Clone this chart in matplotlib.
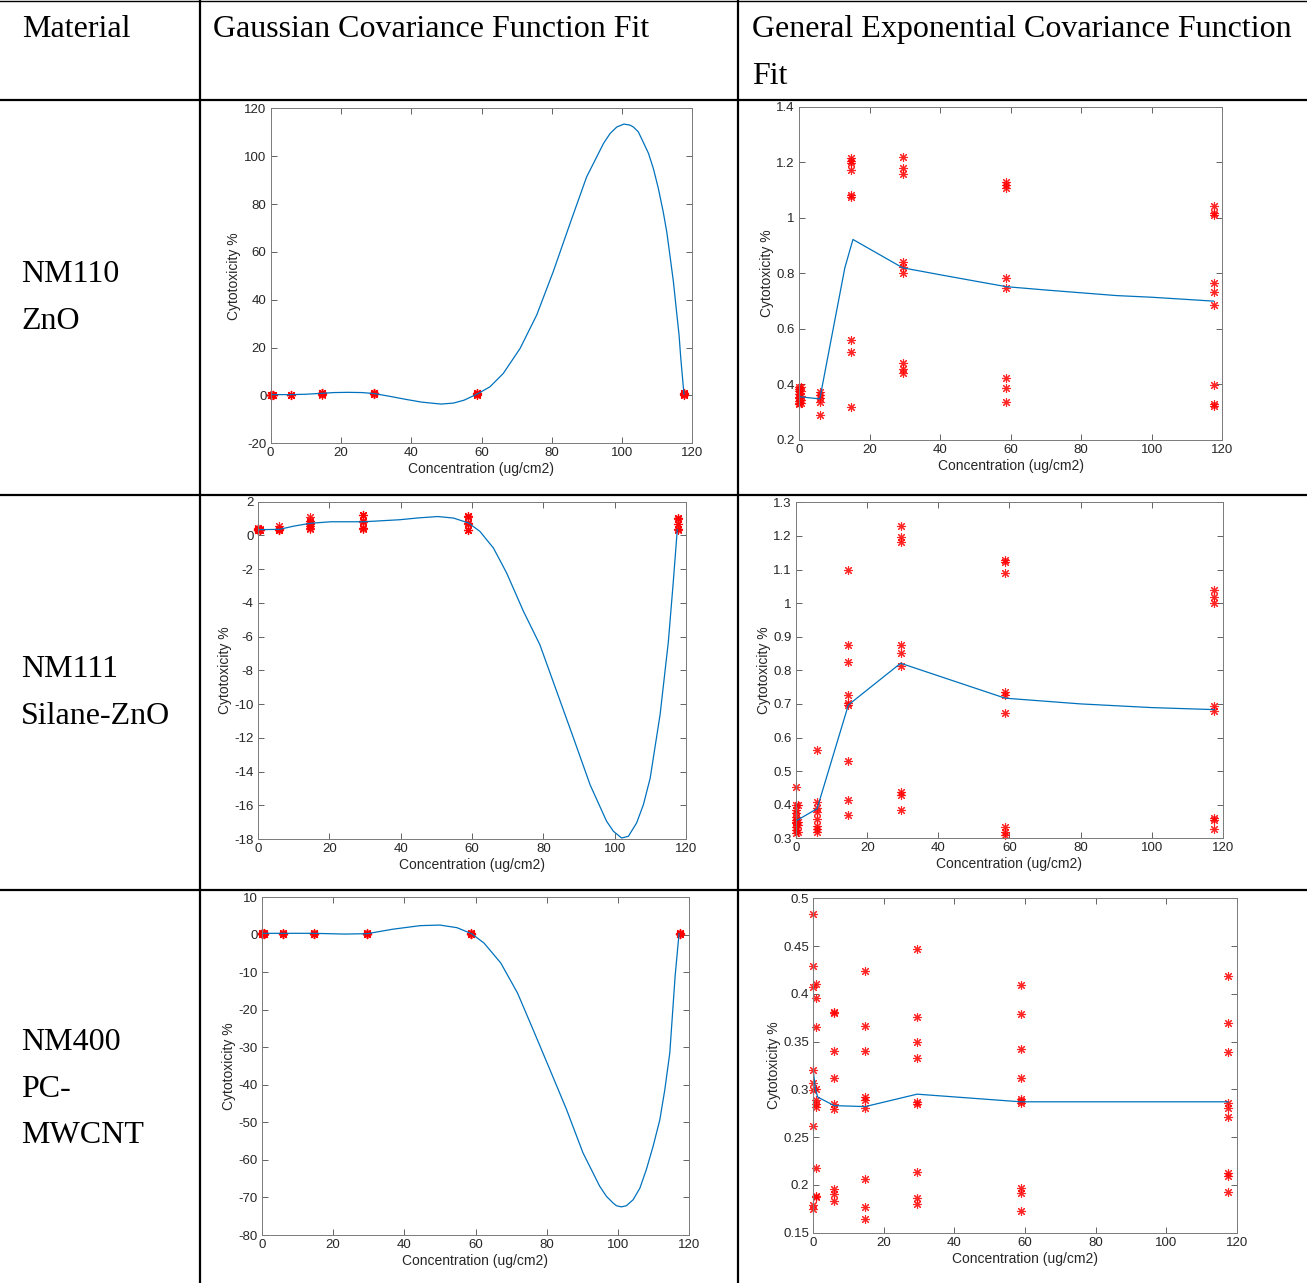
import numpy as np
import matplotlib
matplotlib.use("Agg")
import matplotlib.pyplot as plt
from matplotlib.lines import Line2D
from matplotlib.ticker import FuncFormatter

# ---- data ----
doses = [0, 0.6, 5.9, 14.7, 29.4, 58.8, 117.6]

# NM110 ZnO observations per dose
zno_obs = [
    [0.39, 0.385, 0.375, 0.365, 0.355, 0.35, 0.34, 0.335, 0.33],
    [0.39, 0.375, 0.36, 0.345, 0.335],
    [0.374, 0.362, 0.35, 0.338, 0.29],
    [1.214, 1.206, 1.196, 1.172, 1.082, 1.076, 0.56, 0.516, 0.318],
    [1.22, 1.178, 1.158, 0.84, 0.824, 0.80, 0.476, 0.454, 0.44],
    [1.128, 1.118, 1.106, 0.782, 0.746, 0.422, 0.386, 0.338],
    [1.042, 1.016, 1.01, 0.766, 0.732, 0.686, 0.398, 0.33, 0.322],
]
zno_gauss_x = [0, 5.9, 10, 14.7, 18, 22, 26, 29.4, 34, 38.7, 43, 48.5, 52, 55, 58.6,
               62.4, 66.2, 71, 75.7, 80.4, 85.2, 89.9, 94.7, 96.6, 98.5, 100.5, 102.2,
               103.2, 104.6, 106, 107.5, 108.9, 110.3, 111.7, 112.7, 113.6, 114.6, 115.5,
               116.2, 116.7, 117.6]
zno_gauss_y = [0.35, 0.35, 0.5, 0.9, 1.2, 1.3, 1.2, 0.8, -0.4, -1.7, -2.8, -3.6, -3.2,
               -2.0, 0.45, 3.6, 9.2, 19.7, 33.6, 51.7, 71.9, 91.3, 105.3, 109.5, 112.2,
               113.4, 113.0, 112.2, 110.2, 105.9, 101.2, 94.8, 86.6, 76.7, 68.4, 58.6,
               47.5, 34.9, 25.3, 15.5, 0.5]
zno_exp_x = [0, 5.9, 13, 15.3, 20, 29.4, 40, 50, 58.8, 70, 80, 90, 100, 117.6]
zno_exp_y = [0.356, 0.348, 0.82, 0.922, 0.888, 0.82, 0.795, 0.772, 0.752, 0.74, 0.73,
             0.72, 0.714, 0.70]

# NM111 Silane-ZnO observations per dose
silane_obs = [
    [0.454, 0.399, 0.384, 0.374, 0.364, 0.354, 0.349, 0.345, 0.335, 0.325, 0.315],
    [0.399, 0.349, 0.339, 0.32],
    [0.563, 0.409, 0.389, 0.379, 0.357, 0.337, 0.327, 0.32],
    [1.099, 0.875, 0.826, 0.727, 0.702, 0.697, 0.531, 0.414, 0.369],
    [1.228, 1.198, 1.183, 0.875, 0.851, 0.814, 0.439, 0.429, 0.384],
    [1.128, 1.123, 1.089, 0.736, 0.727, 0.672, 0.335, 0.32, 0.31],
    [1.039, 1.019, 0.999, 0.695, 0.679, 0.36, 0.355, 0.328],
]
silane_gauss_x = [0, 6, 10, 14.7, 20.4, 29.6, 39.7, 45, 50.4, 54.8, 59, 62.2, 66, 69.7,
                  74.4, 79, 83.7, 88.4, 93.1, 97.7, 99.6, 101.9, 103.8, 106.1, 108,
                  109.9, 112.7, 115, 116.4, 117.5]
silane_gauss_y = [0.34, 0.36, 0.55, 0.72, 0.81, 0.81, 0.93, 1.04, 1.12, 1.03, 0.74, 0.24,
                  -0.75, -2.23, -4.5, -6.48, -9.24, -12.0, -14.8, -16.95, -17.54, -17.94,
                  -17.84, -17.05, -15.97, -14.4, -10.6, -6.3, -2.7, 0.34]
silane_exp_x = [0, 5.9, 14.7, 29.4, 58.8, 80, 100, 117.6]
silane_exp_y = [0.352, 0.388, 0.697, 0.821, 0.717, 0.70, 0.689, 0.683]

# NM400 PC-MWCNT observations per dose
mwcnt_obs = [
    [0.484, 0.429, 0.407, 0.32, 0.307, 0.299, 0.262, 0.179, 0.175],
    [0.41, 0.396, 0.365, 0.30, 0.289, 0.285, 0.282, 0.218, 0.188, 0.187],
    [0.381, 0.380, 0.340, 0.312, 0.285, 0.279, 0.196, 0.190, 0.183],
    [0.424, 0.366, 0.340, 0.292, 0.289, 0.280, 0.206, 0.177, 0.164],
    [0.447, 0.376, 0.350, 0.333, 0.287, 0.285, 0.214, 0.186, 0.180],
    [0.409, 0.379, 0.342, 0.312, 0.290, 0.288, 0.286, 0.197, 0.192, 0.173],
    [0.419, 0.369, 0.339, 0.286, 0.281, 0.271, 0.213, 0.209, 0.193],
]
mwcnt_gauss_x = [0, 5.8, 14.5, 23.2, 29.5, 36.8, 44.5, 50.0, 54.8, 58.9, 62.4, 67.1,
                 71.8, 76.2, 80.9, 85.6, 90.2, 94.9, 96.8, 98.7, 99.6, 101, 102.4, 104.3,
                 106.2, 108, 109.9, 111.8, 113.2, 114.6, 116.1, 117.2]
mwcnt_gauss_y = [0.4, 0.4, 0.4, 0.2, 0.3, 1.5, 2.45, 2.6, 1.9, 0.3, -2.2, -7.5, -15.5,
                 -25.3, -35.9, -46.6, -58.1, -67.0, -69.7, -71.5, -72.2, -72.5, -72.2,
                 -70.6, -67.5, -62.6, -56.4, -49.3, -41.3, -31.5, -11, 0.3]
mwcnt_exp_x = [0, 0.6, 1.2, 5.9, 14.7, 29.4, 58.8, 117.6]
mwcnt_exp_y = [0.318, 0.300, 0.292, 0.283, 0.282, 0.295, 0.287, 0.287]

materials = [["NM110", "ZnO"], ["NM111", "Silane-ZnO"], ["NM400", "PC-", "MWCNT"]]
headers = ["Material", "Gaussian Covariance Function Fit",
           "General Exponential Covariance Function", "Fit"]

# ---- layout (pixels) ----
W, H = 1307, 1283
fig = plt.figure(figsize=(W / 100, H / 100), dpi=100)
fig.patch.set_facecolor("white")

def fx(x):
    return x / W

def fy(y):
    return 1 - y / H

def hline(y, x0=0, x1=W, lw=1.6):
    fig.add_artist(Line2D([fx(x0), fx(x1)], [fy(y), fy(y)], color="black", lw=lw))

def vline(x, y0=0, y1=H):
    fig.add_artist(Line2D([fx(x), fx(x)], [fy(y0), fy(y1)], color="black", lw=1.6))

hline(0.5, lw=1.0)
for y in [100, 495, 890]:
    hline(y)
for x in [199.5, 737.5]:
    vline(x)

serif = dict(family="Liberation Serif", fontsize=23, color="black", va="baseline")
fig.text(fx(22), fy(37), headers[0], **serif)
fig.text(fx(213), fy(37), headers[1], **serif)
fig.text(fx(752), fy(37), headers[2], **serif)
fig.text(fx(752), fy(84), headers[3], **serif)

label_base = [[282, 329], [677, 724], [1050, 1097, 1143]]
for names, bases in zip(materials, label_base):
    for name, b in zip(names, bases):
        fig.text(fx(21), fy(b), name, **serif)

boxes = [
    (270.6, 108.3, 692.4, 443.3),
    (799.0, 106.7, 1222.1, 440.0),
    (257.9, 501.7, 686.2, 839.0),
    (796.1, 502.3, 1222.8, 838.3),
    (262.0, 897.3, 689.0, 1235.0),
    (813.4, 898.3, 1236.6, 1232.7),
]
yranges = [(-20, 120, 20), (0.2, 1.4, 0.2), (-18, 2, 2), (0.3, 1.3, 0.1),
           (-80, 10, 10), (0.15, 0.5, 0.05)]
obs_sets = [zno_obs, zno_obs, silane_obs, silane_obs, mwcnt_obs, mwcnt_obs]
curves = [(zno_gauss_x, zno_gauss_y), (zno_exp_x, zno_exp_y),
          (silane_gauss_x, silane_gauss_y), (silane_exp_x, silane_exp_y),
          (mwcnt_gauss_x, mwcnt_gauss_y), (mwcnt_exp_x, mwcnt_exp_y)]

fmt = FuncFormatter(lambda v, _: f"{round(v, 4):g}")
axis_col = "#262626"

for (l, t, r, b), (y0, y1, step), obs, (cx, cy) in zip(boxes, yranges, obs_sets, curves):
    ax = fig.add_axes([fx(l), fy(b), (r - l) / W, (b - t) / H])
    xs = np.concatenate([[d] * len(v) for d, v in zip(doses, obs)])
    ys = np.concatenate(obs)
    ax.plot(xs, ys, linestyle="none", marker=(8, 2, 0), markersize=6.5,
            markeredgewidth=0.8, color="#ff0000", alpha=0.85, clip_on=False)
    ax.plot(cx, cy, color="#0072BD", lw=0.9)
    ax.set_xlim(0, 120)
    ax.set_ylim(y0, y1)
    ax.set_xticks(np.arange(0, 121, 20))
    ax.set_yticks(np.round(np.arange(y0, y1 + step / 2, step), 4))
    ax.yaxis.set_major_formatter(fmt)
    ax.tick_params(direction="in", top=True, right=True, length=4, width=0.5,
                   labelsize=9.5, colors=axis_col, pad=3)
    for s in ax.spines.values():
        s.set_linewidth(0.7)
        s.set_color("#7a7a7a")
    for lab in ax.get_xticklabels() + ax.get_yticklabels():
        lab.set_family("Liberation Sans")
    ax.set_xlabel("Concentration (ug/cm2)", fontsize=10, color=axis_col,
                  family="Liberation Sans", labelpad=2)
    ax.set_ylabel("Cytotoxicity %", fontsize=10, color=axis_col,
                  family="Liberation Sans", labelpad=2)

fig.savefig("out.png", dpi=100, facecolor="white")
